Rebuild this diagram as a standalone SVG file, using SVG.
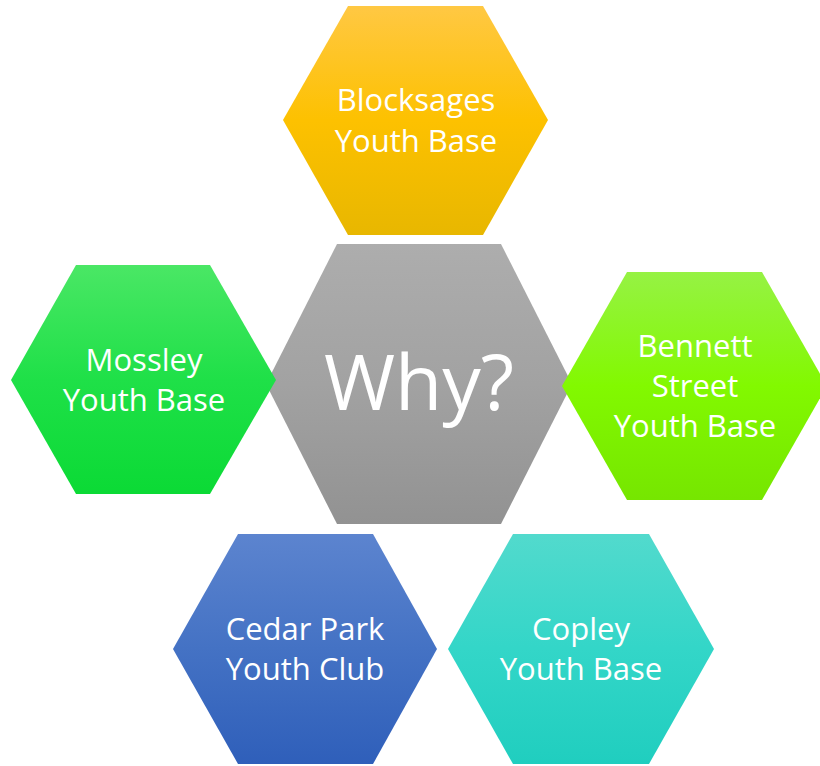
<svg xmlns="http://www.w3.org/2000/svg" width="820" height="766" viewBox="0 0 820 766">
<defs>
<linearGradient id="gY" x1="0" y1="0" x2="0" y2="1"><stop offset="0" stop-color="#FFC843"/><stop offset="0.5" stop-color="#FDC100"/><stop offset="1" stop-color="#E8B700"/></linearGradient>
<linearGradient id="gC" x1="0" y1="0" x2="0" y2="1"><stop offset="0" stop-color="#ADADAD"/><stop offset="0.5" stop-color="#A2A2A2"/><stop offset="1" stop-color="#929292"/></linearGradient>
<linearGradient id="gM" x1="0" y1="0" x2="0" y2="1"><stop offset="0" stop-color="#4AE765"/><stop offset="0.5" stop-color="#1FE048"/><stop offset="1" stop-color="#0BDA35"/></linearGradient>
<linearGradient id="gB" x1="0" y1="0" x2="0" y2="1"><stop offset="0" stop-color="#96F244"/><stop offset="0.5" stop-color="#82F900"/><stop offset="1" stop-color="#76E600"/></linearGradient>
<linearGradient id="gP" x1="0" y1="0" x2="0" y2="1"><stop offset="0" stop-color="#5C84CF"/><stop offset="0.5" stop-color="#4472C4"/><stop offset="1" stop-color="#2F5FBA"/></linearGradient>
<linearGradient id="gT" x1="0" y1="0" x2="0" y2="1"><stop offset="0" stop-color="#52DACD"/><stop offset="0.5" stop-color="#33D6C8"/><stop offset="1" stop-color="#20CEBF"/></linearGradient>
</defs>
<style>
.lbl{font-family:"Open Sans","Liberation Sans",sans-serif;font-size:31px;fill:#FFFFFF;text-anchor:middle;}
.big{font-family:"Open Sans","Liberation Sans",sans-serif;font-size:77px;fill:#FFFFFF;text-anchor:middle;}
</style>
<g id="blocksages">
<polygon points="283,120 348,6 483,6 548,120 483,235 348,235" fill="url(#gY)"/>
<text class="lbl" x="416" y="111">Blocksages</text>
<text class="lbl" x="416" y="152">Youth Base</text>
</g>
<g id="why">
<polygon points="266,384 337,244 501,244 572,384 501,524 337,524" fill="url(#gC)"/>
<text class="big" x="419" y="410">Why?</text>
</g>
<g id="mossley">
<polygon points="11,380 76,265 210,265 276,380 210,494 76,494" fill="url(#gM)"/>
<text class="lbl" x="144" y="371">Mossley</text>
<text class="lbl" x="144" y="411">Youth Base</text>
</g>
<g id="bennett">
<polygon points="562,386 627,272 762,272 827,386 762,500 627,500" fill="url(#gB)"/>
<text class="lbl" x="695" y="357">Bennett</text>
<text class="lbl" x="695" y="397">Street</text>
<text class="lbl" x="695" y="437">Youth Base</text>
</g>
<g id="cedarpark">
<polygon points="173,649 238,534 373,534 437,649 373,764 238,764" fill="url(#gP)"/>
<text class="lbl" x="305" y="640">Cedar Park</text>
<text class="lbl" x="305" y="680">Youth Club</text>
</g>
<g id="copley">
<polygon points="448,649 513,534 649,534 714,649 649,764 513,764" fill="url(#gT)"/>
<text class="lbl" x="581" y="640">Copley</text>
<text class="lbl" x="581" y="680">Youth Base</text>
</g>
</svg>
